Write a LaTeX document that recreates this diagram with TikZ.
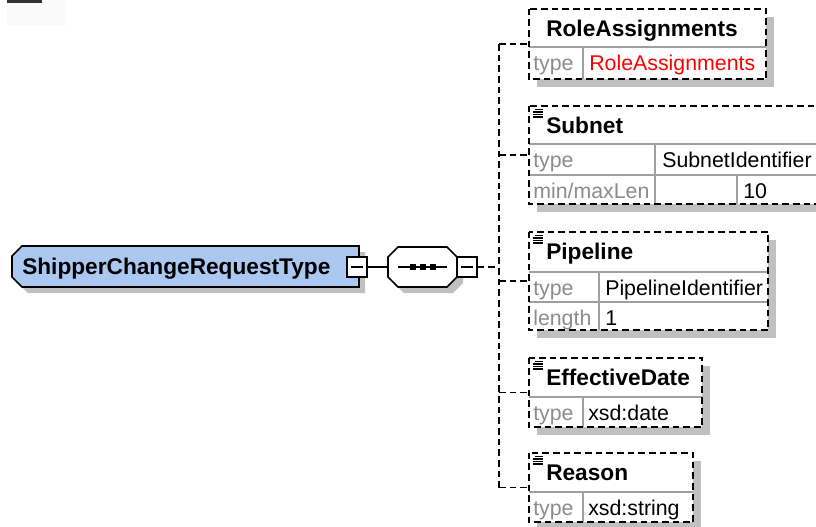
\documentclass[tikz,border=0pt]{standalone}
\usepackage{fontspec}
\setmainfont{Liberation Sans}
\usetikzlibrary{fit}
\definecolor{elemblue}{RGB}{170,200,240}
\definecolor{shadowgray}{RGB}{192,192,192}
\definecolor{rulegray}{RGB}{160,160,160}
\definecolor{typegray}{RGB}{140,140,140}
\newcommand\mkbox[5]{%
  \fill[shadowgray] (#2+8,#3+8) rectangle (#4+8,#5+8);
  \fill[white] (#2,#3) rectangle (#4,#5);
  \path (#2,#3) coordinate (#1a) (#4,#5) coordinate (#1b);
  \node[fit=(#1a)(#1b), inner sep=0pt] (#1) {};
}
\newcommand\lsticon[2]{%
  \draw[line width=0.9pt] (#1+6,#2+3.5) -- (#1+14,#2+3.5)
    (#1+4,#2+6) -- (#1+14,#2+6) (#1+4,#2+8.5) -- (#1+14,#2+8.5)
    (#1+4,#2+11) -- (#1+14,#2+11);
}
\begin{document}
\begin{tikzpicture}[x=0.75pt,y=-0.75pt,
  boldtxt/.style={font=\fontsize{17}{20}\selectfont\bfseries, inner sep=0pt, anchor=base west},
  regtxt/.style={font=\fontsize{16}{19}\selectfont, inner sep=0pt, anchor=base west},
  keytxt/.style={regtxt, text=typegray},
  dashline/.style={dash pattern=on 5pt off 3pt, line width=1.4pt},
  rule/.style={rulegray, line width=1pt},
  minusbox/.style={draw, fill=white, line width=1pt, minimum size=15pt, inner sep=0pt}]
\useasboundingbox (0,0) rectangle (816,526);
\begin{scope}
\clip (0,0) rectangle (816,526);
% top-left artefact
\fill[black!2] (7,0) rectangle (66,25);
\fill[black!80] (7,0) rectangle (42,3);

% main element
\fill[shadowgray] (28,252) -- (365,252) -- (365,293) -- (28,293) -- (18,283) -- (18,262) -- cycle;
\filldraw[fill=elemblue, line width=1.2pt] (22,246) -- (359,246) -- (359,287) -- (22,287) -- (12,277) -- (12,256) -- cycle;
\path (12,246) coordinate (mainA) (359,287) coordinate (mainB);
\node[fit=(mainA)(mainB), inner sep=0pt] (main) {};
\node[boldtxt] (mainT) at (22,274) {ShipperChangeRequestType};
\node[minusbox] (mainminus) at (357,267) {};
\draw[line width=1pt] ([xshift=-4.5pt]mainminus.center) -- ([xshift=4.5pt]mainminus.center);

% sequence compositor
\fill[shadowgray] (404,253) -- (453,253) -- (463,263) -- (463,283) -- (453,293) -- (404,293) -- (394,283) -- (394,263) -- cycle;
\path (388,247) coordinate (seqA) (457,287) coordinate (seqB);
\node[fit=(seqA)(seqB), inner sep=0pt] (seq) {};
\filldraw[fill=white, line width=1.2pt] (398,247) -- (447,247) -- (457,257) -- (457,277) -- (447,287) -- (398,287) -- (388,277) -- (388,257) -- cycle;
\draw[line width=1.2pt] (398,267) -- (447,267);
\fill (410,264) rectangle (415.5,270);
\fill (420,264) rectangle (425.5,270);
\fill (430,264) rectangle (435.5,270);
\node[minusbox] (seqminus) at (467,267) {};
\draw[line width=1pt] ([xshift=-4.5pt]seqminus.center) -- ([xshift=4.5pt]seqminus.center);

\draw[line width=1.2pt] (mainminus.east) -- (seq.west);
\coordinate (spMid) at (499,267);

% children boxes
\mkbox{role}{529}{9}{766}{79}
\mkbox{subnet}{529}{106}{850}{204}
\mkbox{pipe}{529}{232}{768}{330}
\mkbox{eff}{529}{358}{702}{427}
\mkbox{reason}{529}{453}{693}{522}

% connectors
\draw[dashline] (seqminus.east) -- (spMid);
\draw[dashline] (spMid |- role.west) -- (spMid |- reason.west);
\draw[dashline] (spMid |- role.west) -- (role.west);
\draw[dashline] (spMid |- subnet.west) -- (subnet.west);
\draw[dashline] (spMid |- pipe.west) -- (pipe.west);
\draw[dashline] (spMid |- eff.west) -- (eff.west);
\draw[dashline] (spMid |- reason.west) -- (reason.west);

% RoleAssignments
\draw[rule] (529,47) -- (766,47) (583,47) -- (583,79);
\node[boldtxt] (roleT) at (546,36) {RoleAssignments};
\node[keytxt] (roleK) at (533,70) {type};
\node[regtxt, text=red] (roleV) at (589,70) {RoleAssignments};
\draw[dashline] (role.north west) rectangle (role.south east);

% Subnet
\draw[rule] (529,144) -- (850,144) (529,175) -- (850,175) (655,144) -- (655,204) (737,175) -- (737,204);
\lsticon{529}{106}
\node[boldtxt] (subT) at (546,133) {Subnet};
\node[keytxt] (subK1) at (533,167) {type};
\node[regtxt] (subV1) at (662,167) {SubnetIdentifier};
\node[keytxt] (subK2) at (533,198) {min/maxLen};
\node[regtxt] (subV2) at (743,198) {10};
\draw[dashline] (subnet.north west) rectangle (subnet.south east);

% Pipeline
\draw[rule] (529,272) -- (768,272) (529,302) -- (768,302) (599,272) -- (599,330);
\lsticon{529}{232}
\node[boldtxt] (pipeT) at (546,259) {Pipeline};
\node[keytxt] (pipeK1) at (533,295) {type};
\node[regtxt] (pipeV1) at (605,295) {PipelineIdentifier};
\node[keytxt] (pipeK2) at (533,325) {length};
\node[regtxt] (pipeV2) at (605,325) {1};
\draw[dashline] (pipe.north west) rectangle (pipe.south east);

% EffectiveDate
\draw[rule] (529,397) -- (702,397) (583,397) -- (583,427);
\lsticon{529}{358}
\node[boldtxt] (effT) at (546,385) {EffectiveDate};
\node[keytxt] (effK) at (533,420) {type};
\node[regtxt] (effV) at (588,420) {xsd:date};
\draw[dashline] (eff.north west) rectangle (eff.south east);

% Reason
\draw[rule] (529,492) -- (693,492) (583,492) -- (583,522);
\lsticon{529}{453}
\node[boldtxt] (reaT) at (546,480) {Reason};
\node[keytxt] (reaK) at (533,515) {type};
\node[regtxt] (reaV) at (588,515) {xsd:string};
\draw[dashline] (reason.north west) rectangle (reason.south east);
\end{scope}
\end{tikzpicture}
\end{document}
